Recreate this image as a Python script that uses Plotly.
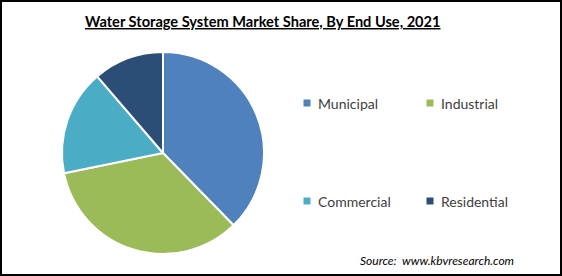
import plotly.graph_objects as go

categories = ["Municipal", "Industrial", "Commercial", "Residential"]
shares = [37.7, 34.1, 16.9, 11.3]
colors = ["#4F81BD", "#9BBB59", "#4BACC6", "#2C4D75"]
title_text = "Water Storage System Market Share, By End Use, 2021"
source_text = "Source:  www.kbvresearch.com"

W, H = 562, 276

fig = go.Figure()
fig.add_trace(go.Pie(
    labels=categories, values=shares, sort=False, direction="clockwise",
    rotation=0, marker=dict(colors=colors, line=dict(color="white", width=2)),
    textinfo="none", hoverinfo="label+percent", showlegend=False,
    domain=dict(x=[62 / W, 264 / W], y=[1 - 254 / H, 1 - 52 / H]),
))

# legend built from categories (2 x 2 grid)
leg_pos = [(307, 103), (430, 103), (307, 201), (430, 201)]
shapes = []
annotations = []
for (cx, cy), name, col in zip(leg_pos, categories, colors):
    shapes.append(dict(type="rect", xref="paper", yref="paper",
                       x0=(cx - 3.5) / W, x1=(cx + 3.5) / W,
                       y0=1 - (cy + 3.5) / H, y1=1 - (cy - 3.5) / H,
                       fillcolor=col, line=dict(width=0)))
    annotations.append(dict(x=(cx + 9) / W, y=1 - cy / H, xref="paper", yref="paper",
                            text=name, showarrow=False, xanchor="left", yanchor="middle",
                            font=dict(family="Lato", size=14, color="#404040")))

annotations.append(dict(x=262 / W, y=1 - 21 / H, xref="paper", yref="paper",
                        text="<b><u>" + title_text + "</u></b>", showarrow=False,
                        xanchor="center", yanchor="middle",
                        font=dict(family="Lato", size=14.6, color="black")))
annotations.append(dict(x=516 / W, y=1 - 260 / H, xref="paper", yref="paper",
                        text="<i>" + source_text + "</i>", showarrow=False,
                        xanchor="right", yanchor="middle",
                        font=dict(family="Lato", size=12, color="black")))

shapes.append(dict(type="rect", xref="paper", yref="paper", x0=1 / W, x1=1 - 1 / W,
                   y0=1 / H, y1=1 - 1 / H, line=dict(color="black", width=2),
                   fillcolor="rgba(0,0,0,0)"))

fig.update_layout(width=W, height=H, margin=dict(l=0, r=0, t=0, b=0),
                  paper_bgcolor="white", plot_bgcolor="white",
                  shapes=shapes, annotations=annotations)
fig.write_html("out.html")
